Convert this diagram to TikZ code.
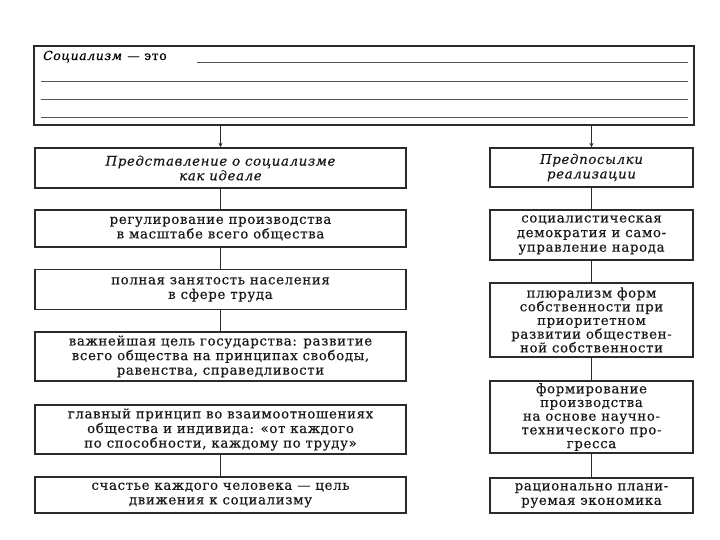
\documentclass[tikz,border=0pt]{standalone}
\usepackage{fontspec}
\setmainfont{DejaVu Serif}[LetterSpace=5,FakeBold=0.5]
\usetikzlibrary{arrows.meta}
\definecolor{linec}{HTML}{2B2B2B}
\definecolor{ruled}{HTML}{555555}
\begin{document}
\begin{tikzpicture}[x=1pt,y=-1pt,
  box/.style={draw=linec, line width=1.4pt, inner sep=0pt, align=center,
    font=\fontsize{13.3}{14.6}\selectfont, text=black!90},
  tight/.style={font=\fontsize{13.3}{13.7}\selectfont},
  lbox/.style={box, minimum width=371pt},
  rbox/.style={box, minimum width=203pt},
  conn/.style={draw=linec, line width=1pt},
  arr/.style={conn, -{Stealth[length=4.5pt,width=4pt]}},
  rule/.style={draw=ruled, line width=0.9pt}
]
\useasboundingbox (0,0) rectangle (720,540);
% top box
\node[draw=linec, line width=1.6pt, minimum width=660pt, minimum height=79pt, inner sep=0pt] (top) at (364,85.5) {};
\node[anchor=base west, inner sep=0pt, font=\fontsize{12.4}{14}\selectfont] (def) at (43,60) {\textit{Социализм} — это};
\coordinate (r1a) at (197,62); \coordinate (r1b) at (688,62);
\coordinate (r2a) at (41,81);  \coordinate (r2b) at (688,81);
\coordinate (r3a) at (41,99);  \coordinate (r3b) at (688,99);
\coordinate (r4a) at (41,117); \coordinate (r4b) at (688,117);
\draw[rule] (r1a) -- (r1b);
\draw[rule] (r2a) -- (r2b);
\draw[rule] (r3a) -- (r3b);
\draw[rule] (r4a) -- (r4b);
% left column
\node[lbox, minimum height=40pt] (L1) at (220.5,168) {\itshape Представление о социализме\\\itshape как идеале};
\node[lbox, minimum height=37pt] (L2) at (220.5,228.5) {регулирование производства\\в масштабе всего общества};
\node[lbox, minimum height=40pt] (L3) at (220.5,289.5) {полная занятость населения\\в сфере труда};
\node[lbox, minimum height=49pt] (L4) at (220.5,356.5) {важнейшая цель государства: развитие\\всего общества на принципах свободы,\\равенства, справедливости};
\node[lbox, minimum height=49pt] (L5) at (220.5,429.5) {главный принцип во взаимоотношениях\\общества и индивида: «от каждого\\по способности, каждому по труду»};
\node[lbox, minimum height=36pt] (L6) at (220.5,495) {счастье каждого человека — цель\\движения к социализму};
% right column
\node[rbox, minimum height=39pt] (R1) at (591.5,167.5) {\itshape Предпосылки\\\itshape реализации};
\node[rbox, minimum height=50pt] (R2) at (591.5,235) {социалистическая\\демократия и само-\\управление народа};
\node[rbox, tight, minimum height=74pt] (R3) at (591.5,320) {плюрализм форм\\собственности при\\приоритетном\\развитии обществен-\\ной собственности};
\node[rbox, tight, minimum height=72pt] (R4) at (591.5,417) {формирование\\производства\\на основе научно-\\технического про-\\гресса};
\node[rbox, minimum height=35pt] (R5) at (591.5,495.5) {рационально плани-\\руемая экономика};
% connectors
\draw[arr] (top.south -| L1.north) -- (L1.north);
\draw[arr] (top.south -| R1.north) -- (R1.north);
\draw[conn] (L1.south) -- (L2.north);
\draw[conn] (L2.south) -- (L3.north);
\draw[conn] (L3.south) -- (L4.north);
\draw[conn] (L5.south) -- (L6.north);
\draw[conn] (R1.south) -- (R2.north);
\draw[conn] (R2.south) -- (R3.north);
\draw[conn] (R3.south) -- (R4.north);
\draw[conn] (R4.south) -- (R5.north);
\end{tikzpicture}
\end{document}
